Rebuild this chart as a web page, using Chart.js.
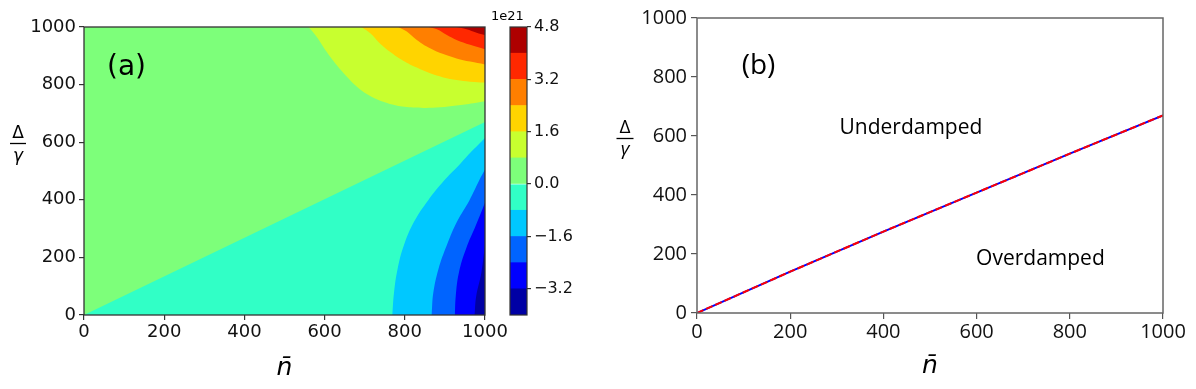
<!DOCTYPE html>
<html>
<head>
<meta charset="utf-8">
<script src="https://cdn.jsdelivr.net/npm/chart.js@4.4.1/dist/chart.umd.min.js"></script>
<style>
  body { margin: 0; background: #fff; width: 1196px; height: 389px; position: relative; overflow: hidden; }
  canvas { position: absolute; top: 0; }
</style>
</head>
<body>
<canvas id="chartA" width="510" height="389" style="left:0"></canvas>
<canvas id="chartCb" width="95" height="389" style="left:490px"></canvas>
<canvas id="chartB" width="596" height="389" style="left:600px"></canvas>
<script>
// axes
var nTicks = [0, 200, 400, 600, 800, 1000];
var dTicks = [0, 200, 400, 600, 800, 1000];

// colorbar (units of 1e21)
var cbLevels = [-4.0, -3.2, -2.4, -1.6, -0.8, 0.0, 0.8, 1.6, 2.4, 3.2, 4.0, 4.8];
var cbTicks = [-3.2, -1.6, 0.0, 1.6, 3.2, 4.8];
var cbColors = ['#0000a4', '#0000ff', '#0064ff', '#00c8ff', '#31ffc6', '#7dff7a',
                '#c8ff2f', '#ffd400', '#ff7f00', '#ff2800', '#ad0000'];

// contour lines of panel (a), points as [n, delta/gamma]
var c08 = [[560,1000],[580,966],[605,914],[630,868],[655,828],[680,793],[705,767],[730,749],[763,733],[805,722],[846,719],[888,721],[929,727],[971,735],[1000,742]];
var c16 = [[692,1000],[714,978],[738,943],[763,914],[796,883],[830,859],[863,839],[896,825],[929,816],[963,810],[1000,807]];
var c24 = [[784,1000],[805,984],[830,955],[863,926],[896,906],[929,891],[963,880],[1000,870]];
var c32 = [[859,1000],[880,992],[905,972],[929,955],[963,938],[1000,923]];
var c40 = [[929,1000],[954,992],[979,980],[1000,972]];
var c00 = [[0,0],[1000,670]];
var cm08 = [[1000,615],[968,570],[935,520],[897,465],[858,398],[824,326],[798,243],[782,160],[773,76],[769,0]];
var cm16 = [[1000,505],[986,469],[961,398],[931,326],[905,243],[884,160],[871,76],[867,0]];
var cm24 = [[1000,390],[978,314],[953,231],[935,148],[927,65],[925,0]];
var cm32 = [[1000,245],[991,148],[978,65],[974,0]];

// panel (b) boundary line
var lineN = [0, 200, 400, 600, 800, 1000];
var lineD = [0, 140, 276, 408, 540, 670];

function xy(pts) {
  return pts.map(function (p) { return { x: p[0], y: p[1] }; });
}

// filled region: contour curve, then the plot corner it encloses
function band(curve, corner, color, tension) {
  var pts = curve.slice();
  if (corner) pts = pts.concat([curve[curve.length - 1], corner]);
  return { data: xy(pts), backgroundColor: color, borderWidth: 0, pointRadius: 0,
           fill: 'shape', tension: tension || 0 };
}

function fmt(v) {
  return v.toFixed(1).replace('-', '\u2212');
}

// draws frame, in-plot texts, axis titles
var decor = {
  id: 'decor',
  afterDraw: function (chart, args, opts) {
    var ctx = chart.ctx, a = chart.chartArea;
    ctx.save();
    ctx.strokeStyle = opts.frameColor;
    ctx.lineWidth = opts.frameWidth;
    ctx.strokeRect(a.left, a.top, a.right - a.left, a.bottom - a.top);
    ctx.fillStyle = '#000';
    ctx.textBaseline = 'middle';
    ctx.textAlign = 'center';
    (opts.labels || []).forEach(function (t) {
      ctx.font = t.font;
      ctx.fillText(t.text, chart.scales.x.getPixelForValue(t.x), chart.scales.y.getPixelForValue(t.y));
    });
    var f = opts.frac;
    if (f) {
      ctx.textBaseline = 'alphabetic';
      ctx.font = f.font;
      ctx.fillText('\u0394', f.x, f.top);
      ctx.font = 'italic ' + f.font;
      ctx.fillText('\u03b3', f.x, f.bottom);
      ctx.lineWidth = 1.3;
      ctx.strokeStyle = '#000';
      ctx.beginPath();
      ctx.moveTo(f.x - f.w / 2, f.bar);
      ctx.lineTo(f.x + f.w / 2, f.bar);
      ctx.stroke();
    }
    if (opts.xTitle) {
      ctx.textBaseline = 'alphabetic';
      ctx.font = opts.xTitle.font;
      ctx.fillText('n\u0304', (a.left + a.right) / 2, opts.xTitle.y);
    }
    ctx.restore();
  }
};

function axis(ticks, font, color, tickLen, pad, fitW, fitH) {
  return {
    type: 'linear', min: 0, max: 1000,
    afterBuildTicks: function (s) { s.ticks = ticks.map(function (v) { return { value: v }; }); },
    afterFit: function (s) { if (fitW) s.width = fitW; if (fitH) s.height = fitH; },
    grid: { drawOnChartArea: false, drawTicks: true, tickLength: tickLen, color: color, lineWidth: 1.2 },
    border: { display: false },
    ticks: { font: font, color: '#111', padding: pad, maxRotation: 0, autoSkip: false,
             callback: function (v) { return String(v); } }
  };
}

// panel (a)
var regionsA = [
  band([[0,0],[0,1000],[1000,1000],[1000,0]], null, cbColors[5]),
  band(c08, [1000,1000], cbColors[6], 0.4),
  band(c16, [1000,1000], cbColors[7], 0.4),
  band(c24, [1000,1000], cbColors[8], 0.4),
  band(c32, [1000,1000], cbColors[9], 0.4),
  band(c40, [1000,1000], cbColors[10], 0.4),
  band(c00, [1000,0], cbColors[4]),
  band(cm08, [1000,0], cbColors[3], 0.4),
  band(cm16, [1000,0], cbColors[2], 0.4),
  band(cm24, [1000,0], cbColors[1], 0.4),
  band(cm32, [1000,0], cbColors[0], 0.4)
];
regionsA.forEach(function (d, i) { d.order = regionsA.length - i; });

var fontA = { family: 'DejaVu Sans', size: 18 };
new Chart(document.getElementById('chartA'), {
  type: 'line',
  data: { datasets: regionsA },
  options: {
    responsive: false, animation: false, events: [],
    layout: { padding: { left: 0, right: 25, top: 27, bottom: 0 } },
    scales: {
      x: axis(nTicks, fontA, '#333', 5, 2, 0, 74),
      y: axis(dTicks, fontA, '#333', 5, 3, 84, 0)
    },
    plugins: {
      legend: { display: false }, tooltip: { enabled: false },
      decor: {
        frameColor: '#333', frameWidth: 1.3,
        labels: [{ text: '(a)', x: 106, y: 858, font: '28px "DejaVu Sans"' }],
        frac: { x: 18, top: 138, bar: 143.5, bottom: 161, w: 16, font: '17px "DejaVu Sans"' },
        xTitle: { y: 375, font: 'italic 25px "DejaVu Sans"' }
      }
    }
  },
  plugins: [decor]
});

// colorbar
var cbSets = cbColors.map(function (c, i) {
  return { data: [[cbLevels[i], cbLevels[i + 1]]], backgroundColor: c, borderWidth: 0,
           barPercentage: 1, categoryPercentage: 1, grouped: false };
});
new Chart(document.getElementById('chartCb'), {
  type: 'bar',
  data: { labels: ['cb'], datasets: cbSets },
  options: {
    responsive: false, animation: false, events: [],
    layout: { padding: { left: 20, right: 0, top: 27, bottom: 74 } },
    scales: {
      x: { display: false },
      y: {
        position: 'right', min: -4.0, max: 4.8,
        afterBuildTicks: function (s) { s.ticks = cbTicks.map(function (v) { return { value: v }; }); },
        afterFit: function (s) { s.width = 58; },
        grid: { drawOnChartArea: false, tickLength: 4, color: '#333', lineWidth: 1.2 },
        border: { display: false },
        ticks: { font: { family: 'DejaVu Sans', size: 16 }, color: '#111', padding: 3,
                 callback: function (v) { return fmt(v); } }
      }
    },
    plugins: { legend: { display: false }, tooltip: { enabled: false } }
  },
  plugins: [{
    id: 'cbFrame',
    afterDraw: function (chart) {
      var ctx = chart.ctx, a = chart.chartArea;
      ctx.save();
      ctx.strokeStyle = '#333'; ctx.lineWidth = 1.2;
      ctx.strokeRect(a.left, a.top, a.right - a.left, a.bottom - a.top);
      ctx.fillStyle = '#000'; ctx.font = '13px "DejaVu Sans"'; ctx.textBaseline = 'alphabetic';
      ctx.fillText('1e21', 1, 20);
      ctx.restore();
    }
  }]
});

// panel (b)
var fontB = { family: 'Open Sans', size: 20 };
var ptsB = lineN.map(function (n, i) { return { x: n, y: lineD[i] }; });
new Chart(document.getElementById('chartB'), {
  type: 'line',
  data: {
    datasets: [
      { data: ptsB, borderColor: '#ff0000', borderWidth: 2, borderDash: [7, 3], pointRadius: 0, fill: false },
      { data: ptsB, borderColor: '#0000ff', borderWidth: 2, pointRadius: 0, fill: false }
    ]
  },
  options: {
    responsive: false, animation: false, events: [],
    layout: { padding: { left: 0, right: 33, top: 18, bottom: 0 } },
    scales: {
      x: axis(nTicks, fontB, '#555', 6, 1, 0, 76),
      y: axis(dTicks, fontB, '#555', 6, 4, 97, 0)
    },
    plugins: {
      legend: { display: false }, tooltip: { enabled: false },
      decor: {
        frameColor: '#666', frameWidth: 1.5,
        labels: [
          { text: '(b)', x: 132, y: 837, font: '28px "Open Sans"' },
          { text: 'Underdamped', x: 459, y: 627, font: '21px "Open Sans"' },
          { text: 'Overdamped', x: 737, y: 183, font: '21px "Open Sans"' }
        ],
        frac: { x: 25, top: 133, bar: 138.5, bottom: 155, w: 17, font: '19px "Open Sans"' },
        xTitle: { y: 373, font: 'italic 25px "DejaVu Sans"' }
      }
    }
  },
  plugins: [decor]
});
</script>
</body>
</html>
